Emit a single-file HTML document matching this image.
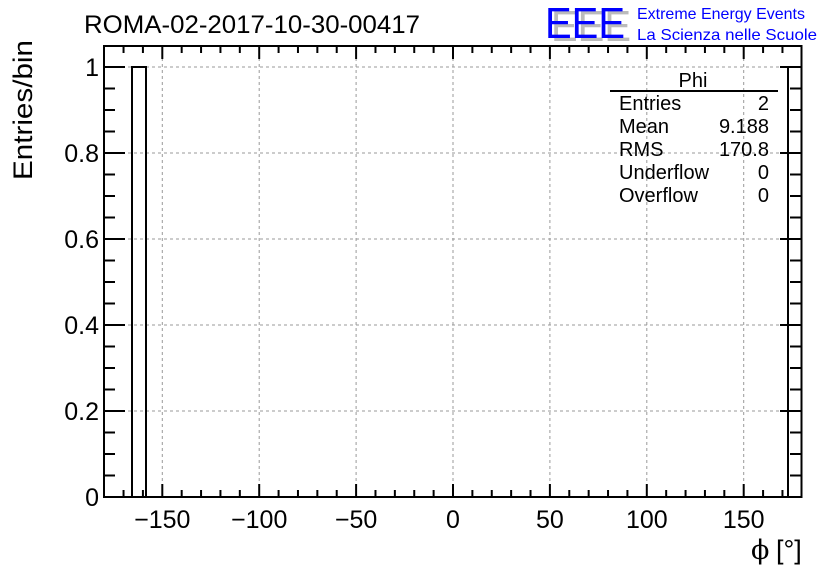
<!DOCTYPE html>
<html><head><meta charset="utf-8"><style>
html,body{margin:0;padding:0;background:#fff;}
svg{display:block;font-family:"Liberation Sans",sans-serif;}
</style></head><body>
<svg width="836" height="572" viewBox="0 0 836 572" xmlns="http://www.w3.org/2000/svg">
<rect width="836" height="572" fill="#fff"/>
<g id="grid" stroke="#999" stroke-width="1" stroke-dasharray="3,3">
</g>
<g id="ticks" stroke="#000" stroke-width="2"></g>
<path d="M132 497 V67 H146 V497" fill="none" stroke="#000" stroke-width="2"/>
<path d="M788 497 V67 H802" fill="none" stroke="#000" stroke-width="2"/>
<rect x="104" y="46" width="697.5" height="451" fill="none" stroke="#000" stroke-width="2"/>
<g font-size="25" text-anchor="end" fill="#000" id="ylab"></g>
<g font-size="25" text-anchor="middle" fill="#000" id="xlab"></g>
<text x="84" y="33" font-size="25" textLength="336" lengthAdjust="spacingAndGlyphs">ROMA-02-2017-10-30-00417</text>
<text transform="translate(32,180) rotate(-90)" font-size="27" textLength="140" lengthAdjust="spacingAndGlyphs">Entries/bin</text>
<text x="751" y="559" font-size="27" font-family="'DejaVu Serif',serif">ϕ</text>
<text x="776" y="559" font-size="27">[°]</text>
<text x="551" y="41" font-size="44" fill="#bbb" textLength="80" lengthAdjust="spacingAndGlyphs">EEE</text>
<text x="545" y="38" font-size="44" fill="#0000ff" textLength="80" lengthAdjust="spacingAndGlyphs">EEE</text>
<text x="637" y="19" font-size="16" fill="#0000ff" textLength="168" lengthAdjust="spacingAndGlyphs">Extreme Energy Events</text>
<text x="637" y="40" font-size="16" fill="#0000ff" textLength="180" lengthAdjust="spacingAndGlyphs">La Scienza nelle Scuole</text>
<g font-size="20" fill="#000">
<text x="693" y="87" text-anchor="middle">Phi</text>
<line x1="610" y1="91" x2="778" y2="91" stroke="#000" stroke-width="2"/>
<text x="619" y="110">Entries</text><text x="769" y="110" text-anchor="end">2</text>
<text x="619" y="133">Mean</text><text x="769" y="133" text-anchor="end">9.188</text>
<text x="619" y="156">RMS</text><text x="769" y="156" text-anchor="end">170.8</text>
<text x="619" y="179">Underflow</text><text x="769" y="179" text-anchor="end">0</text>
<text x="619" y="202">Overflow</text><text x="769" y="202" text-anchor="end">0</text>
</g>
<script>
var ns="http://www.w3.org/2000/svg";
function X(v){return 453+v*1.938;}
function Y(v){return 497-430*v;}
function ln(g,x1,y1,x2,y2){var l=document.createElementNS(ns,"line");l.setAttribute("x1",x1);l.setAttribute("y1",y1);l.setAttribute("x2",x2);l.setAttribute("y2",y2);document.getElementById(g).appendChild(l);}
function tx(g,x,y,s){var t=document.createElementNS(ns,"text");t.setAttribute("x",x);t.setAttribute("y",y);t.textContent=s;document.getElementById(g).appendChild(t);}
for(var v=-150;v<=150;v+=50){var x=X(v);ln("grid",x,46,x,497);ln("ticks",x,497,x,484);ln("ticks",x,46,x,59);tx("xlab",x,528,v<0?"\u2212"+(-v):""+v);}
for(var v=-170;v<=170;v+=10){if(v%50==0)continue;var x=X(v);ln("ticks",x,497,x,490);ln("ticks",x,46,x,53);}
for(var i=0;i<=5;i++){var y=Y(i*0.2);if(i>0)ln("grid",104,y,801,y);ln("ticks",104,y,125,y);ln("ticks",801,y,780,y);tx("ylab",99,y+9,i==0?"0":i==5?"1":(i*0.2).toFixed(1));}
for(var i=1;i<=21;i++){if(i%4==0)continue;var y=Y(i*0.05);if(y<46)continue;ln("ticks",104,y,115,y);ln("ticks",801,y,790,y);}
</script>
</svg>
</body></html>
